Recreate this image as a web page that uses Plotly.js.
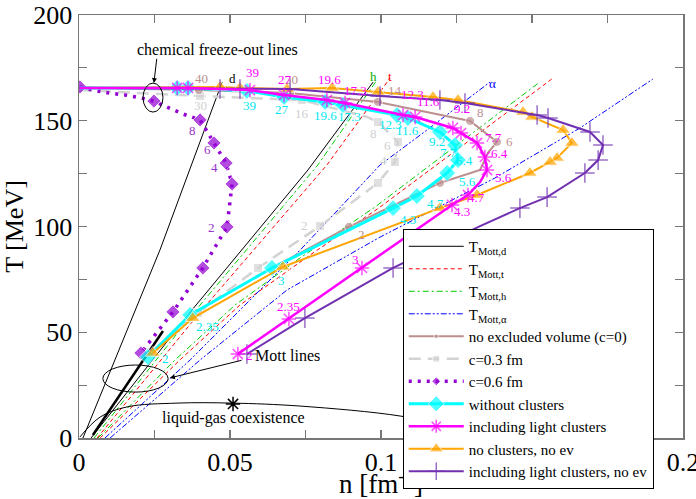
<!DOCTYPE html>
<html><head><meta charset="utf-8">
<script src="https://cdn.plot.ly/plotly-3.0.1.min.js"></script>
<style>html,body{margin:0;padding:0;background:#fff}#chart{width:696px;height:499px}</style>
</head><body><div id="chart"></div>
<script>
// ---- Mott lines (n in fm^-3, T in MeV); null separates branches ----
const mottD_n = [0.0013, 0.0268, 0.0474, null, 0.004, 0.0374, 0.0758, 0.0974];
const mottD_T = [0, 88.9, 168.3, null, 0, 60.5, 126.7, 168.3];
const mottDthick_n = [0.0046, 0.0278];
const mottDthick_T = [1.4, 50.6];
const mottT_n = [0.006, 0.0407, 0.0821, 0.103, null, 0.007, 0.0334, 0.0533, 0.0765, 0.0997, 0.1384, 0.157];
const mottT_T = [0, 60.5, 129.1, 170.2, null, 0, 36.9, 62.9, 86.5, 109.2, 150.4, 170.2];
const mottH_n = [0.005, 0.0387, 0.0791, 0.0987, null, 0.0063, 0.0318, 0.0517, 0.0732, 0.098, 0.1361, 0.1526];
const mottH_T = [0, 60.5, 129.1, 169.3, null, 0, 36.9, 62.9, 85.1, 109.2, 150.4, 168.3];
const mottA_n = [0.0086, 0.0368, 0.0566, 0.0742, 0.0997, 0.1139, 0.1361, null, 0.0103, 0.0401, 0.0689, 0.0997, 0.1377, 0.1659, 0.19];
const mottA_T = [0, 36.9, 65.2, 90.3, 129.1, 144.2, 168.3, null, 0, 36.9, 70.0, 95.0, 122.9, 146.6, 169.7];

// ---- liquid-gas coexistence ----
const lg_n = [0.0003, 0.007, 0.0159, 0.0325, 0.0507, 0.0732, 0.1063, 0.122, 0.13];
const lg_T = [0.5, 9.9, 14.7, 16.5, 16.5, 15.1, 10.4, 5.5, 0];
const cp_n = [0.051];
const cp_T = [16.1];

// ---- freeze-out curves ----
const c0_n = [0.0003, 0.0205, 0.0397, 0.0699, 0.099, 0.1295, 0.1384, 0.1354, 0.1328, 0.1195, 0.0894, 0.0639, 0.0368, 0.0228];
const c0_T = [166.0, 165.0, 164.5, 163.1, 158.9, 149.9, 140.0, 134.8, 126.7, 120.6, 99.8, 80.4, 58.2, 38.3];
const c03_n = [0.0003, 0.0401, 0.0738, 0.0954, 0.099, 0.1056, 0.1046, 0.099, 0.0798, 0.0593, 0.0394, 0.0235];
const c03_T = [164.5, 161.7, 159.8, 151.8, 149.4, 140.0, 130.5, 120.6, 100.2, 80.4, 59.1, 40.2];
const c06_n = [0.0003, 0.0046, 0.0099, 0.0152, 0.0205, 0.0248, 0.0291, 0.0344, 0.0401, 0.0447, 0.0487, 0.0507, 0.049, 0.041, 0.0311, 0.0205];
const c06_T = [166.0, 164.5, 163.1, 162.2, 160.8, 159.3, 156.5, 153.2, 150.4, 139.5, 130.0, 120.1, 99.8, 80.4, 59.6, 40.2];
const noCl_n = [0.0003, 0.0325, 0.0361, 0.0556, 0.0679, 0.0815, 0.0874, 0.1053, 0.1089, 0.1195, 0.1245, 0.1255, 0.1219, 0.1119, 0.104, 0.0639, 0.0368, 0.0228];
const noCl_T = [165.5, 165.5, 165.5, 164.1, 161.2, 158.9, 157.4, 152.7, 151.3, 144.7, 138.5, 131.4, 125.3, 114.4, 108.7, 80.4, 58.2, 38.3];
const lc_n = [0.0003, 0.0325, 0.0361, 0.0566, 0.0679, 0.0821, 0.0881, 0.1073, 0.1113, 0.1238, 0.1265, 0.1318, 0.1344, 0.1351, 0.1328, 0.1288, 0.1235, 0.0937, 0.0695, 0.0526];
const lc_T = [165.5, 165.5, 165.5, 164.5, 162.2, 159.8, 158.4, 152.7, 151.8, 146.6, 144.2, 139.5, 132.9, 126.7, 121.0, 114.9, 110.2, 80.4, 56.3, 39.7];
const noClNoEv_n = [0.0003, 0.0467, 0.0533, 0.0689, 0.0838, 0.099, 0.1172, 0.1255, 0.147, 0.150, 0.1603, 0.1632, 0.1583, 0.156, 0.1493, 0.1318, 0.1195, 0.0675, 0.0377, 0.0245];
const noClNoEv_T = [165.5, 166.0, 165.5, 165.0, 165.5, 163.6, 161.2, 159.8, 154.1, 151.8, 145.6, 139.5, 132.4, 130.5, 125.3, 114.9, 108.7, 80.9, 56.7, 40.2];
const lcNoEv_n = [0.0003, 0.0467, 0.0533, 0.0699, 0.0997, 0.1195, 0.1278, 0.1517, 0.1553, 0.1692, 0.1735, 0.1719, 0.1675, 0.155, 0.146, 0.1328, 0.104, 0.0748, 0.0556];
const lcNoEv_T = [165.5, 165.0, 165.0, 165.0, 161.7, 159.8, 158.4, 152.7, 151.3, 144.7, 138.5, 131.4, 125.3, 113.9, 108.7, 100.2, 80.4, 56.7, 39.7];

// indices of path points drawn without a symbol
const c0_plain = [0, 1, 7, 8, 11, 12, 13];
const c03_plain = [0, 3, 11];
const c06_plain = [1, 2, 3, 4, 6, 7];
const noCl_plain = [0];
const lc_plain = [0, 14];
const noClNoEv_plain = [0];
const lcNoEv_plain = [0, 15];

// point labels
const labLc = ['39','27','19.6','17.3','12.3','11.6','9.2','7.7','6.4','5.6','4.7','4.3','3','2.35','2'];
const labLc_n = [0.0573,0.0682,0.0831,0.0914,0.1103,0.1156,0.1268,0.1371,0.1394,0.1404,0.1315,0.1268,0.0914,0.0695,0.0566];
const labLc_T = [172.6,169.3,169.3,164.5,162.6,159.3,156.0,142.3,134.3,123.4,113.5,107.3,84.2,62.4,38.8];
const labNoCl = ['39','27','19.6','17.3','12.3','11.6','9.2','7.7','6.4','5.6','4.7','4.3','3','2.35','2'];
const labNoCl_n = [0.0566,0.0672,0.0815,0.0897,0.103,0.1089,0.1185,0.1222,0.1278,0.1288,0.1179,0.1089,0.0672,0.0427,0.0285];
const labNoCl_T = [157.0,155.1,152.7,152.2,148.0,145.2,140.0,135.2,131.4,121.5,111.1,103.1,74.7,52.5,37.8];
const labC0 = ['40','20','14','8','6','2'];
const labC0_n = [0.0407,0.0705,0.1046,0.1331,0.1427,0.0937];
const labC0_T = [170.2,169.3,164.5,153.7,140.4,96.0];
const labC03 = ['30','16','8','6','4','2'];
const labC03_n = [0.0401,0.0738,0.0974,0.102,0.1007,0.0748];
const labC03_T = [157.4,153.2,144.2,138.1,131.4,100.7];
const labC06 = ['8','6','4','2'];
const labC06_n = [0.0377,0.0424,0.045,0.044];
const labC06_T = [145.2,136.6,127.7,99.3];
const labMott = ['d','h','t','\u03b1'];
const labMott_n = [0.0507,0.0974,0.103,0.1368];
const labMott_T = [170.2,170.7,170.7,167.8];

const SERIF = 'Liberation Serif, Times New Roman, serif';
function sizes(n, plain, s) { return n.map((_, i) => plain.includes(i) ? 0 : s); }

const traces = [
  {x: mottD_n, y: mottD_T, name: 'T<sub>Mott,d</sub>', mode: 'lines', line: {color: '#000', width: 1}, legendrank: 1},
  {x: mottDthick_n, y: mottDthick_T, mode: 'lines', line: {color: '#000', width: 2.5}, showlegend: false, hoverinfo: 'skip'},
  {x: mottT_n, y: mottT_T, name: 'T<sub>Mott,t</sub>', mode: 'lines', line: {color: '#ff0000', width: 1, dash: '4px,3px'}, legendrank: 2},
  {x: mottH_n, y: mottH_T, name: 'T<sub>Mott,h</sub>', mode: 'lines', line: {color: '#00cc00', width: 1, dash: '6px,3px,2px,3px'}, legendrank: 3},
  {x: mottA_n, y: mottA_T, name: 'T<sub>Mott,\u03b1</sub>', mode: 'lines', line: {color: '#0000ff', width: 1, dash: '6px,2px,2px,2px,2px,2px'}, legendrank: 4},
  {x: lg_n, y: lg_T, mode: 'lines', line: {color: '#000', width: 1, shape: 'spline'}, showlegend: false},
  {x: cp_n, y: cp_T, mode: 'markers', marker: {symbol: 'asterisk-open', size: 12, color: '#000', line: {color: '#000', width: 1.5}}, showlegend: false},
  {x: c03_n, y: c03_T, name: 'c=0.3 fm', mode: 'lines+markers', line: {color: '#d3d3d3', width: 2.5, dash: '12px,7px'},
   marker: {symbol: 'square', color: '#d3d3d3', size: sizes(c03_n, c03_plain, 9)}, legendrank: 6},
  {x: c0_n, y: c0_T, name: 'no excluded volume (c=0)', mode: 'lines+markers', line: {color: '#bc8f8f', width: 2},
   marker: {symbol: 'circle', color: '#bc8f8f', size: sizes(c0_n, c0_plain, 9)}, legendrank: 5},
  {x: c06_n, y: c06_T, name: 'c=0.6 fm', mode: 'lines+markers', line: {color: '#9400d3', width: 3.5, dash: '3px,6px'},
   marker: {symbol: 'diamond', color: '#9400d3', size: sizes(c06_n, c06_plain, 11)}, legendrank: 7},
  {x: noCl_n, y: noCl_T, name: 'without clusters', mode: 'lines+markers', line: {color: '#00ffff', width: 3},
   marker: {symbol: 'diamond', color: '#00ffff', size: sizes(noCl_n, noCl_plain, 13)}, legendrank: 8},
  {x: noClNoEv_n, y: noClNoEv_T, name: 'no clusters, no ev', mode: 'lines+markers', line: {color: '#ffa500', width: 2},
   marker: {symbol: 'triangle-up', color: '#ffa500', size: sizes(noClNoEv_n, noClNoEv_plain, 13)}, legendrank: 10},
  {x: lcNoEv_n, y: lcNoEv_T, name: 'including light clusters, no ev', mode: 'lines+markers', line: {color: '#7030b0', width: 2},
   marker: {symbol: 'cross-thin-open', color: '#7030b0', size: sizes(lcNoEv_n, lcNoEv_plain, 14), line: {color: '#7030b0', width: 1.5}}, legendrank: 11},
  {x: lc_n, y: lc_T, name: 'including light clusters', mode: 'lines+markers', line: {color: '#ff00ff', width: 2.5},
   marker: {symbol: 'asterisk-open', color: '#ff00ff', size: sizes(lc_n, lc_plain, 12), line: {color: '#ff00ff', width: 1.5}}, legendrank: 9}
];

const annotations = [];
function addLabels(txt, xs, ys, color) {
  txt.forEach((t, i) => annotations.push({x: xs[i], y: ys[i], xref: 'x', yref: 'y', text: t, showarrow: false,
    font: {family: SERIF, size: 13, color: color}}));
}
addLabels(labC03, labC03_n, labC03_T, '#cfcfcf');
addLabels(labC0, labC0_n, labC0_T, '#bc8f8f');
addLabels(labC06, labC06_n, labC06_T, '#9932cc');
addLabels(labNoCl, labNoCl_n, labNoCl_T, '#00e8f0');
addLabels(labLc, labLc_n, labLc_T, '#ff00ff');
addLabels(labMott, labMott_n, labMott_T, '#000');
annotations[annotations.length - 3].font.color = '#00aa00';
annotations[annotations.length - 2].font.color = '#ff0000';
annotations[annotations.length - 1].font.color = '#0000ff';
annotations.push(
  {x: 0.0457, y: 183.9, xref: 'x', yref: 'y', text: 'chemical freeze-out lines', showarrow: false, font: {family: SERIF, size: 16, color: '#000'}},
  {x: 0.0248, y: 167.8, ax: 0.0258, ay: 180, xref: 'x', yref: 'y', axref: 'x', ayref: 'y', text: '', showarrow: true, arrowhead: 2, arrowsize: 1, arrowwidth: 1, arrowcolor: '#000'},
  {x: 0.0576, y: 39.2, xref: 'x', yref: 'y', xanchor: 'left', text: 'Mott lines', showarrow: false, font: {family: SERIF, size: 16, color: '#000'}},
  {x: 0.0301, y: 28.4, ax: 0.0543, ay: 36.9, xref: 'x', yref: 'y', axref: 'x', ayref: 'y', text: '', showarrow: true, arrowhead: 2, arrowsize: 1, arrowwidth: 1, arrowcolor: '#000'},
  {x: 0.051, y: 9.5, xref: 'x', yref: 'y', text: 'liquid-gas coexistence', showarrow: false, font: {family: SERIF, size: 16, color: '#000'}}
);

const axisCommon = {
  automargin: false, ticklabeloverflow: 'allow',
  ticks: 'inside', ticklen: 8, tickwidth: 1.2, tickcolor: '#777', linecolor: '#777', linewidth: 1.5, mirror: 'ticks',
  showgrid: false, zeroline: false, tickfont: {family: SERIF, size: 26, color: '#000'}
};

const layout = {
  width: 696, height: 499,
  margin: {l: 79, r: 13, t: 15, b: 61, autoexpand: false},
  paper_bgcolor: '#fff', plot_bgcolor: '#fff',
  showlegend: true,
  xaxis: Object.assign({}, axisCommon, {range: [0, 0.2], tick0: 0, dtick: 0.05,
    minor: {dtick: 0.025, ticks: 'inside', ticklen: 8, tickcolor: '#777'},
    title: {text: 'n [fm<sup>-3</sup>]', font: {family: SERIF, size: 27, color: '#000'}, standoff: 0}}),
  yaxis: Object.assign({}, axisCommon, {range: [0, 200], tick0: 0, dtick: 50,
    minor: {dtick: 25, ticks: 'inside', ticklen: 8, tickcolor: '#777'},
    title: {text: 'T [MeV]', font: {family: SERIF, size: 26, color: '#000'}, standoff: 6}}),
  legend: {x: 0.536, y: 0.494, xanchor: 'left', yanchor: 'top', bgcolor: '#fff', bordercolor: '#000', borderwidth: 1,
    font: {family: SERIF, size: 15, color: '#000'}, itemwidth: 55, tracegroupgap: 0},
  shapes: [
    {type: 'circle', xref: 'x', yref: 'y', x0: 0.0212, x1: 0.0278, y0: 154.1, y1: 167.8, line: {color: '#000', width: 1}},
    {type: 'circle', xref: 'x', yref: 'y', x0: 0.0079, x1: 0.0295, y0: 21.7, y1: 34.5, line: {color: '#000', width: 1}}
  ],
  annotations: annotations
};

Plotly.newPlot('chart', traces, layout, {displayModeBar: false, staticPlot: true}).then(function () {
  // keep the legend box above the axis title, as in the original figure
  const leg = document.querySelector('#chart g.legend');
  if (leg && leg.parentNode) leg.parentNode.appendChild(leg);
});
</script>
</body></html>
